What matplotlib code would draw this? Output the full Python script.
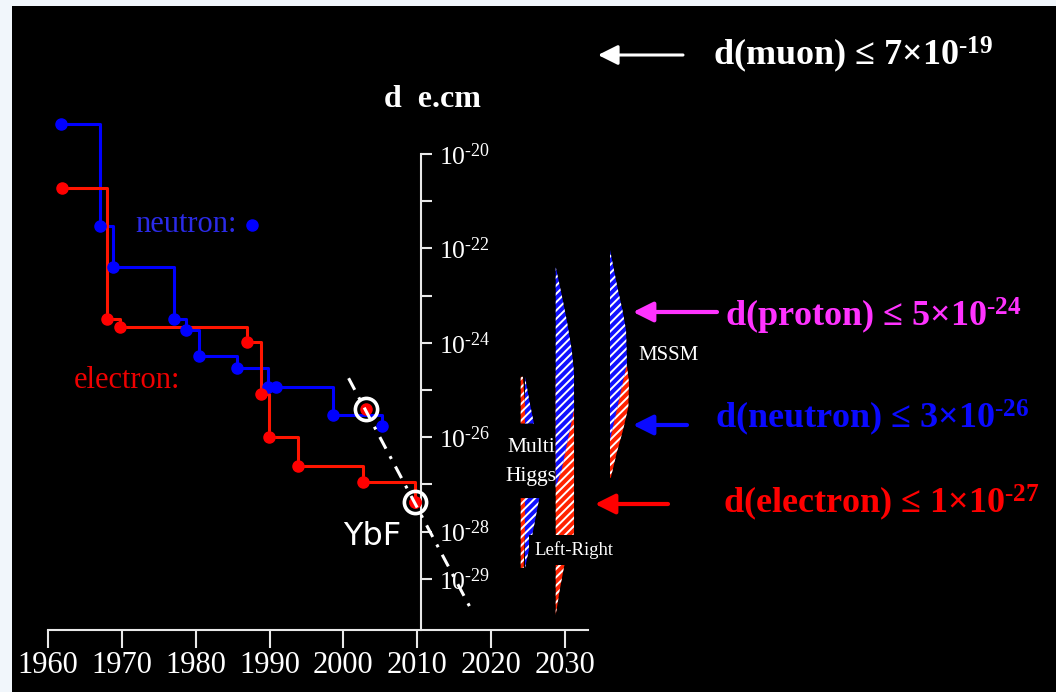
import numpy as np
import matplotlib.pyplot as plt
from matplotlib.ticker import FixedLocator, FuncFormatter, NullLocator
from matplotlib.transforms import Affine2D

plt.rcParams['font.family'] = 'Liberation Serif'
plt.rcParams['mathtext.fontset'] = 'custom'
plt.rcParams['mathtext.rm'] = 'Liberation Serif'
plt.rcParams['mathtext.bf'] = 'Liberation Serif:bold'
plt.rcParams['mathtext.default'] = 'regular'
plt.rcParams['hatch.color'] = 'white'
plt.rcParams['hatch.linewidth'] = 1.4

# EDM upper limits: year and log10(|d| / e.cm)
neutron_year = [1961.7, 1967.0, 1968.8, 1977.0, 1978.7, 1980.4, 1985.6, 1989.8, 1990.9, 1998.6, 2005.2]
neutron_log = [-19.37, -21.53, -22.39, -23.50, -23.73, -24.28, -24.53, -24.94, -24.94, -25.53, -25.76]

electron_year = [1961.9, 1968.0, 1969.8, 1986.9, 1988.9, 1989.9, 1993.9, 2002.6, 2009.7]
electron_log = [-20.71, -23.50, -23.66, -23.98, -25.08, -26.00, -26.60, -26.94, -27.37]

# YbF molecule results (circled)
ybf_year = [2003.0, 2009.7]
ybf_log = [-25.41, -27.37]

# projected improvement
trend_year = [2000.7, 2017.2]
trend_log = [-24.75, -29.62]

# theory predictions: vertical profiles (log10 d, width in years), nan = gap for the label
nan = np.nan
mh_x = 2024.0
mh_log = [-24.72, -25.30, -25.71, nan, -27.29, -28.00, -28.77]
mh_red = [0.30, 0.58, 0.58, nan, 0.58, 0.58, 0.40]
mh_blue = [0.0, 0.68, 1.22, nan, 1.94, 1.08, 0.0]

lr_x = 2028.74
lr_blue_log = [-22.39, -23.09, -23.58, -24.15, -24.64, -25.42, -25.85, -26.27, -26.69, -27.06]
lr_blue = [0.0, 0.95, 1.56, 2.17, 2.48, 2.48, 1.90, 1.35, 0.81, 0.0]
lr_red_log = [-24.64, -25.21, -28.03, -28.18, -28.75, -29.24, -29.77]
lr_red = [1.35, 2.48, 2.48, 2.17, 1.12, 0.54, 0.0]

mssm_x = 2036.09
mssm_blue_log = [-22.03, -22.46, -22.88, -23.31, -23.73, -24.43, -25.21, -26.06]
mssm_blue = [0.0, 0.54, 1.08, 1.69, 2.17, 2.30, 1.22, 0.0]
mssm_red_log = [-24.43, -24.85, -25.36, -25.85, -26.33, -26.86]
mssm_red = [2.26, 2.57, 2.48, 1.76, 0.91, 0.11]

labelled_decades = [-20, -22, -24, -26, -28, -29]

BLUE = '#0000FF'
RED = '#FF1500'

fig = plt.figure(figsize=(10.56, 6.92), dpi=100, facecolor='#F1F6FB')
ax = fig.add_axes([12 / 1056, 0, 1044 / 1056, 686 / 692], facecolor='black')
ax.set_yscale('log')
ax.set_xlim(1955.13, 2096.47)
ax.set_ylim(10 ** -31.398, 10 ** -16.864)

# pixel positions measured from the top-left corner of the figure
px = Affine2D().scale(1, -1).translate(0, 692).scale(1 / 100) + fig.dpi_scale_trans

# axes
for s in ('left', 'top'):
    ax.spines[s].set_visible(False)
ax.spines['right'].set_position(('data', 2010.5))
ax.spines['right'].set_bounds(10 ** -30.08, 1e-20)
ax.spines['bottom'].set_position(('data', 10 ** -30.08))
ax.spines['bottom'].set_bounds(1960, 2033.1)
for s in ('right', 'bottom'):
    ax.spines[s].set_color('#E8E8E8')
    ax.spines[s].set_linewidth(1.5)

ax.yaxis.tick_right()
ax.set_xticks(range(1960, 2031, 10))
ax.tick_params(axis='x', direction='out', length=13, width=1.5, color='#E8E8E8',
               labelcolor='white', labelsize=22, pad=2)
ax.yaxis.set_major_locator(FixedLocator(10.0 ** np.arange(-20, -30, -1)))
ax.yaxis.set_minor_locator(NullLocator())


def decade_label(v, pos):
    e = int(round(np.log10(v)))
    if e not in labelled_decades:
        return ''
    return r'$10^{\text{-}%d}$' % -e


ax.yaxis.set_major_formatter(FuncFormatter(decade_label))
ax.tick_params(axis='y', direction='out', length=8, width=1.5, color='#E8E8E8',
               labelcolor='white', labelsize=18.5, pad=5)

# measured limits
n_vals = 10.0 ** np.array(neutron_log)
e_vals = 10.0 ** np.array(electron_log)
ax.plot(neutron_year, n_vals, drawstyle='steps-post', color=BLUE, lw=2.2, zorder=3)
ax.plot(neutron_year, n_vals, 'o', ms=8, color=BLUE, zorder=4)
ax.plot(electron_year, e_vals, drawstyle='steps-post', color=RED, lw=2.2, zorder=3)
ax.plot(electron_year, e_vals, 'o', ms=8, color='#FF0000', zorder=4)

ybf_vals = 10.0 ** np.array(ybf_log)
ax.plot(ybf_year, ybf_vals, 'o', ms=8, color='#FF0000', zorder=4)
ax.plot(ybf_year, ybf_vals, 'o', ms=16, mfc='none', mec='white', mew=2.6, zorder=5)

ax.plot(trend_year, 10.0 ** np.array(trend_log), color='white', lw=2.2,
        dashes=(4.3, 2.8, 1, 2.8), zorder=6)


def band(x0, logs, widths, color, offset=0.0):
    y = 10.0 ** np.asarray(logs)
    left = x0 + offset
    ax.fill_betweenx(y, left, left + np.asarray(widths), facecolor=color,
                     edgecolor='white', hatch='////', linewidth=0, zorder=3)


band(mh_x, mh_log, mh_red, '#FF2200')
band(mh_x, mh_log, mh_blue, '#1010FF', offset=0.58)
band(lr_x, lr_red_log, lr_red, '#FF2200')
band(lr_x, lr_blue_log, lr_blue, '#1010FF')
band(mssm_x, mssm_red_log, mssm_red, '#FF2200')
band(mssm_x, mssm_blue_log, mssm_blue, '#1010FF')

ax.text(531, 462, 'Multi\nHiggs', transform=px, color='white', fontsize=15.5,
        ha='center', va='center', linespacing=1.75, zorder=7)
ax.text(574, 550, 'Left-Right', transform=px, color='white', fontsize=13.5,
        ha='center', va='center', zorder=7,
        bbox=dict(boxstyle='square,pad=0.3', fc='black', ec='none'))
ax.text(638, 355, 'MSSM', transform=px, color='white', fontsize=15,
        ha='left', va='center', zorder=7)

# series labels
ax.text(135, 232, 'neutron:', transform=px, color='#2B2BE8', fontsize=22, va='baseline')
ax.plot([252], [225], 'o', ms=8, color=BLUE, transform=px)
ax.text(74, 388, 'electron:', transform=px, color='#EE0000', fontsize=22, va='baseline')
ax.text(343, 545, 'YbF', transform=px, color='white', fontsize=23,
        family='DejaVu Sans', va='baseline')
ax.text(384, 107, 'd  e.cm', transform=px, color='white', fontsize=23,
        fontweight='bold', va='baseline')

# current limits on the right
limits = [
    (r'd(muon) ≤ 7×10$^{\text{-}19}$', 'white', 713, 65, 683, 598, 55, 2.2),
    (r'd(proton) ≤ 5×10$^{\text{-}24}$', '#FF33FF', 725, 327, 717, 633, 312, 3),
    (r'd(neutron) ≤ 3×10$^{\text{-}26}$', '#0A0AFF', 715, 428, 687, 633, 425, 3),
    (r'd(electron) ≤ 1×10$^{\text{-}27}$', '#FF0000', 723, 513, 668, 595, 504, 3),
]
for text, color, tx, ty, tail, head, ay, lw in limits:
    ax.text(tx, ty, text, transform=px, color=color, fontsize=26,
            fontweight='bold', va='baseline')
    ax.annotate('', xy=(head, ay), xytext=(tail, ay), xycoords=px, textcoords=px,
                arrowprops=dict(arrowstyle='-|>,head_length=0.6,head_width=0.3',
                                color=color, lw=lw, shrinkA=0, shrinkB=0,
                                mutation_scale=20))

fig.savefig('out.png', dpi=100, facecolor=fig.get_facecolor())
